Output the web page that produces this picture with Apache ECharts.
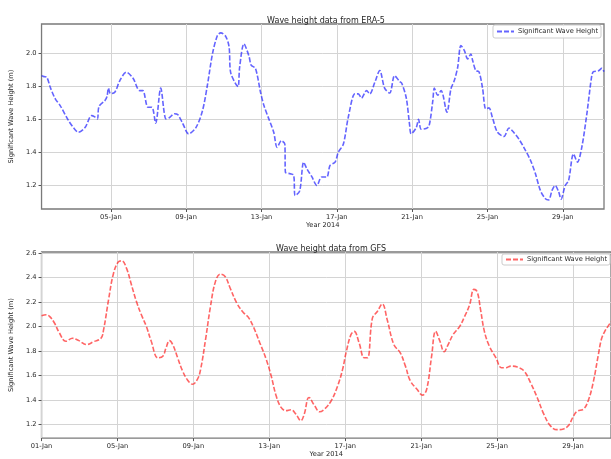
<!DOCTYPE html>
<html>
<head>
<meta charset="utf-8">
<script src="https://cdn.jsdelivr.net/npm/echarts@6/dist/echarts.min.js"></script>
<style>html,body{margin:0;padding:0;background:#fff}#c{width:611px;height:459px}</style>
</head>
<body>
<div id="c"></div>
<script>
// ---- data (days since 2014-01-01 00:00) ----
const era5Days = [0.32,0.45,0.60,0.80,1.05,1.31,1.75,2.05,2.27,2.63,2.98,3.15,3.29,3.37,3.68,3.80,3.87,3.98,4.21,4.48,4.82,5.18,5.53,5.70,5.97,6.18,6.38,6.65,6.93,7.10,7.38,7.55,7.82,8.13,8.52,8.87,9.14,9.40,9.66,9.84,10.10,10.28,10.36,10.63,10.76,10.84,11.07,11.34,11.45,11.68,11.95,12.13,12.39,12.65,12.83,13.06,13.24,13.27,13.53,13.71,13.79,14.03,14.24,14.41,14.68,14.94,15.20,15.47,15.64,15.91,16.08,16.35,16.61,16.96,17.14,17.31,17.58,17.75,18.02,18.28,18.54,18.81,19.07,19.34,19.45,19.69,19.86,19.95,20.22,20.34,20.48,20.74,20.90,21.10,21.18,21.36,21.54,21.85,22.06,22.24,22.42,22.59,22.77,22.95,23.12,23.21,23.38,23.55,23.74,23.91,24.08,24.26,24.53,24.88,25.14,25.40,25.67,25.93,26.29,26.55,26.81,27.08,27.25,27.43,27.60,27.78,27.91,28.13,28.31,28.57,28.78,29.01,29.28,29.54,29.63,29.89,30.07,30.19];
const era5Values = [1.866,1.860,1.856,1.790,1.725,1.684,1.593,1.545,1.522,1.550,1.623,1.615,1.603,1.678,1.714,1.740,1.790,1.757,1.765,1.836,1.887,1.850,1.775,1.775,1.674,1.674,1.577,1.790,1.603,1.610,1.634,1.630,1.575,1.512,1.550,1.654,1.816,2.000,2.110,2.126,2.105,2.040,1.887,1.816,1.800,1.917,2.059,1.983,1.930,1.910,1.765,1.684,1.603,1.522,1.430,1.470,1.450,1.279,1.270,1.260,1.137,1.165,1.340,1.300,1.250,1.198,1.250,1.250,1.320,1.340,1.400,1.450,1.613,1.755,1.755,1.730,1.775,1.755,1.826,1.897,1.790,1.760,1.866,1.830,1.820,1.730,1.573,1.512,1.550,1.600,1.540,1.545,1.560,1.714,1.790,1.747,1.775,1.643,1.785,1.836,1.917,2.049,2.020,1.968,1.998,1.960,1.897,1.890,1.790,1.664,1.670,1.613,1.522,1.496,1.548,1.520,1.480,1.430,1.350,1.269,1.168,1.117,1.110,1.168,1.198,1.160,1.115,1.198,1.228,1.390,1.340,1.430,1.634,1.866,1.890,1.895,1.910,1.890];

const gfsDays = [0,0.24,0.42,0.68,0.94,1.28,1.63,1.97,2.37,2.75,3.13,3.27,3.53,3.79,4.05,4.23,4.48,4.74,5.00,5.26,5.52,5.78,6.13,6.39,6.56,6.74,6.91,7.17,7.43,7.69,7.95,8.21,8.38,8.64,8.90,9.16,9.42,9.68,9.94,10.29,10.63,10.89,11.15,11.50,11.84,12.10,12.36,12.62,12.88,13.14,13.40,13.66,13.84,14.09,14.39,14.65,14.91,15.26,15.60,15.86,16.04,16.30,16.47,16.73,17.00,17.17,17.43,17.69,17.95,18.21,18.56,18.90,19.17,19.43,19.78,20.07,20.29,20.55,20.76,20.99,21.21,21.42,21.68,22.03,22.29,22.55,22.78,22.95,23.13,23.33,23.59,23.94,24.23,24.46,24.72,25.07,25.42,25.76,26.11,26.46,26.80,27.15,27.50,27.76,27.99,28.20,28.55,28.80,29.06,29.32,29.49,29.67,29.84,30.00];
const gfsValues = [2.089,2.097,2.084,2.030,1.949,1.881,1.905,1.886,1.854,1.878,1.905,1.976,2.219,2.435,2.530,2.538,2.476,2.340,2.205,2.097,2.003,1.881,1.746,1.759,1.827,1.886,1.854,1.746,1.638,1.565,1.530,1.570,1.651,1.895,2.165,2.368,2.430,2.408,2.314,2.192,2.116,2.078,2.003,1.868,1.732,1.597,1.435,1.341,1.314,1.322,1.286,1.232,1.286,1.422,1.354,1.305,1.327,1.395,1.516,1.651,1.786,1.935,1.962,1.868,1.746,1.746,2.070,2.124,2.186,2.057,1.854,1.786,1.678,1.557,1.489,1.441,1.489,1.759,1.962,1.881,1.795,1.854,1.935,2.003,2.084,2.178,2.305,2.286,2.138,1.962,1.841,1.746,1.665,1.665,1.678,1.670,1.638,1.543,1.422,1.286,1.192,1.159,1.165,1.192,1.259,1.308,1.327,1.395,1.543,1.759,1.895,1.962,2.003,2.040];

// ---- ticks ----
const xTickDays = [0,4,8,12,16,20,24,28];
const xTickLabels = ['01-Jan','05-Jan','09-Jan','13-Jan','17-Jan','21-Jan','25-Jan','29-Jan'];
const yTicksTop = [1.2,1.4,1.6,1.8,2.0];
const yTicksBottom = [1.2,1.4,1.6,1.8,2.0,2.2,2.4,2.6];

const titles = ['Wave height data from ERA-5','Wave height data from GFS'];
const seriesName = 'Significant Wave Height';
const xName = 'Year 2014';
const yName = 'Significant Wave Height (m)';

const FONT = 'DejaVu Sans';
const TXT = '#262626';
const FS = 6.7;

function pairs(d, v){ return d.map((x,i)=>[x, v[i]]); }

function xAxisCfg(gi, min, max, ticks){
  return {
    type:'value', gridIndex:gi, min:min, max:max,
    name:xName, nameLocation:'middle', nameGap:12,
    nameTextStyle:{fontFamily:FONT,fontSize:FS,color:TXT},
    axisLine:{show:false},
    axisTick:{show:true, length:3, lineStyle:{color:'#555',width:1}, customValues:ticks},
    axisLabel:{customValues:ticks, margin:5, fontFamily:FONT, fontSize:FS, color:TXT,
      formatter:(v)=>{ const i = xTickDays.indexOf(Math.round(v)); return i>=0 ? xTickLabels[i] : ''; }},
    splitLine:{show:true, lineStyle:{color:'#d4d4d4', width:1}}
  };
}
function yAxisCfg(gi, min, max, ticks){
  return {
    type:'value', gridIndex:gi, min:min, max:max,
    name:yName, nameLocation:'middle', nameGap:22, nameRotate:90,
    nameTextStyle:{fontFamily:FONT,fontSize:FS,color:TXT},
    axisLine:{show:false},
    axisTick:{show:true, length:3, lineStyle:{color:'#555',width:1}, customValues:ticks},
    axisLabel:{customValues:ticks, margin:5, fontFamily:FONT, fontSize:FS, color:TXT,
      formatter:(v)=>v.toFixed(1)},
    splitLine:{show:true, lineStyle:{color:'#d4d4d4', width:1}}
  };
}

const legendCommon = {
  orient:'horizontal', itemWidth:17, itemHeight:8, itemGap:4,
  backgroundColor:'rgba(255,255,255,0.85)', borderColor:'#cccccc', borderWidth:1, borderRadius:2,
  itemStyle:{opacity:0},
  textStyle:{fontFamily:FONT,fontSize:FS,color:TXT,padding:[0,0,0,-1]}
};

const chart = echarts.init(document.getElementById('c'), null, {renderer:'canvas'});
chart.setOption({
  animation:false,
  backgroundColor:'#fff',
  title:[
    {text:titles[0], left:321, top:12, textAlign:'center', textStyle:{fontFamily:FONT,fontSize:8,fontWeight:'normal',color:TXT}},
    {text:titles[1], left:326, top:240, textAlign:'center', textStyle:{fontFamily:FONT,fontSize:8,fontWeight:'normal',color:TXT}}
  ],
  grid:[
    {left:38, right:7, top:24, height:185, show:true, borderColor:'#7a7a7a', borderWidth:1.3, backgroundColor:'transparent'},
    {left:38.7, right:-3, top:252, height:187.3, show:true, borderColor:'#7a7a7a', borderWidth:1.3, backgroundColor:'transparent'}
  ],
  legend:[
    Object.assign({}, legendCommon, {data:[{name:seriesName}], right:10, top:25, padding:[3,3,3,3]}),
    Object.assign({}, legendCommon, {data:[{name:seriesName+' '}], right:1, top:254, padding:[2,3,2,3], formatter:(n)=>n.trim()})
  ],
  xAxis:[ xAxisCfg(0, era5Days[0], era5Days[era5Days.length-1], xTickDays.filter(d=>d>=era5Days[0])),
          xAxisCfg(1, 0, 30, xTickDays) ],
  yAxis:[ yAxisCfg(0, 1.055, 2.18, yTicksTop),
          yAxisCfg(1, 1.09, 2.61, yTicksBottom) ],
  series:[
    {name:seriesName, type:'line', xAxisIndex:0, yAxisIndex:0, data:pairs(era5Days, era5Values),
      showSymbol:false, symbol:'none', smooth:0.3, color:'rgba(40,40,255,0.72)',
      lineStyle:{color:'rgba(40,40,255,0.72)', width:1.6, type:[5,2]}},
    {name:seriesName+' ', type:'line', xAxisIndex:1, yAxisIndex:1, data:pairs(gfsDays, gfsValues),
      showSymbol:false, symbol:'none', smooth:0.4, color:'rgba(255,40,40,0.72)',
      lineStyle:{color:'rgba(255,40,40,0.72)', width:1.6, type:[5,2]}}
  ]
});
</script>
</body>
</html>
